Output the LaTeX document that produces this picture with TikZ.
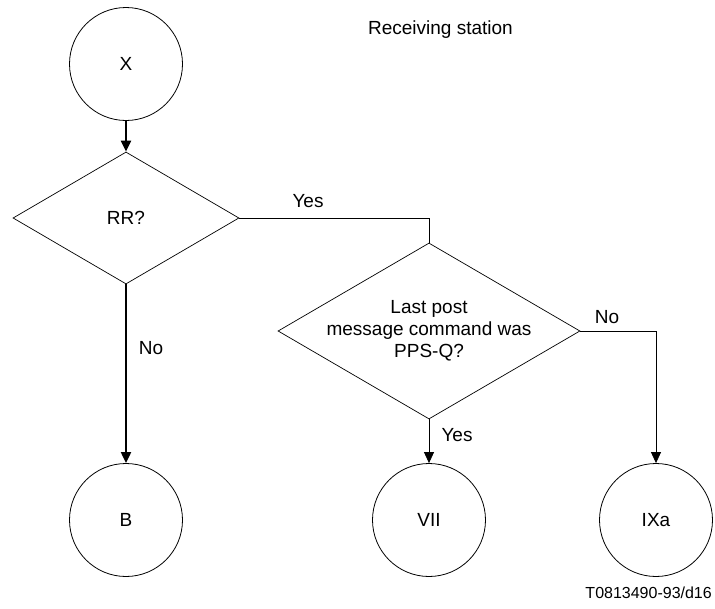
\documentclass[tikz,border=0pt]{standalone}
\usepackage{fontspec}
\setmainfont{Liberation Sans}
\usetikzlibrary{shapes.geometric,arrows.meta}
\begin{document}
\begin{tikzpicture}[x=1pt,y=-1pt,
  every node/.style={font=\fontsize{19}{22}\selectfont},
  term/.style={draw,circle,line width=0.8pt,minimum size=113pt,inner sep=0pt},
  decision/.style={draw,diamond,line width=0.7pt,inner sep=0pt,align=center},
  thin line/.style={line width=0.8pt},
  thick line/.style={line width=2pt},
  tip/.style={-{Triangle[length=11pt,width=10pt]}},
  lbl/.style={inner sep=0pt}
]
\useasboundingbox (0,0) rectangle (715,608);
\node[term] (X) at (126,64) {X};
\node[decision,minimum width=226pt,minimum height=132pt] (RR) at (126,218) {RR?};
\node[decision,minimum width=302pt,minimum height=176pt,
  label={[align=center,inner sep=0pt]center:{Last post\\message command was\\PPS-Q?}}] (D2) at (429,331) {};
\node[term] (B) at (126,520) {B};
\node[term] (VII) at (429,520) {VII};
\node[term] (IXa) at (656,520) {IXa};

\draw[thick line,tip] (X.south) -- (RR.north);
\draw[thin line] (RR.east) -| (D2.north);
\draw[thick line,tip] (RR.south) -- (B.north);
\draw[thin line,tip] (D2.east) -| (IXa.north);
\draw[thin line,tip] (D2.south) -- (VII.north);

\node[lbl] (yes1) at (308,201) {Yes};
\node[lbl] (no1) at (151,348) {No};
\node[lbl] (no2) at (607,317) {No};
\node[lbl] (yes2) at (457,435) {Yes};
\node[lbl,anchor=east] (title) at (513,30) {Receiving station};
\node[lbl,anchor=east,font=\fontsize{16}{16}\selectfont] (ref) at (712,593) {T0813490-93/d16};
\end{tikzpicture}
\end{document}
